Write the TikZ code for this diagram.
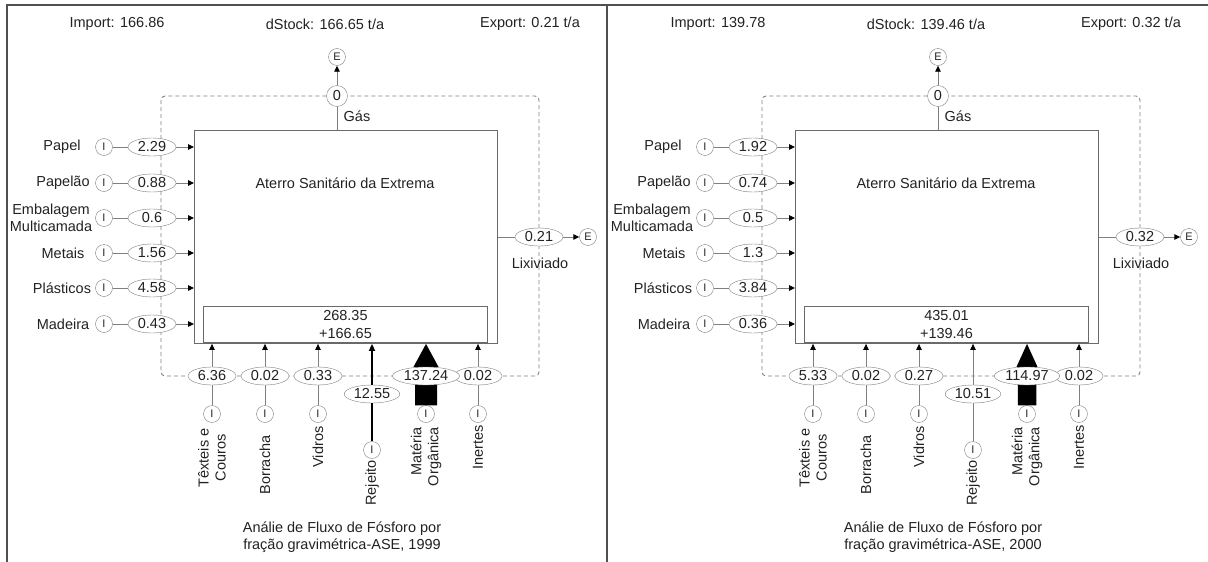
\documentclass[tikz,border=0pt]{standalone}
\usepackage{fontspec}
\setmainfont{Liberation Sans}
\usetikzlibrary{arrows.meta,shapes.geometric,calc}
\definecolor{ln}{HTML}{808080}
\definecolor{bx}{HTML}{6A6A6A}
\definecolor{tx}{HTML}{222222}
\definecolor{fr}{HTML}{505050}
\tikzset{
 circ/.style={circle, draw=ln, fill=white, minimum size=17pt, inner sep=0pt, font=\fontsize{11}{11}\selectfont, text=tx},
 zcirc/.style={circle, draw=ln, fill=white, minimum size=21pt, inner sep=0pt, text=tx},
 val/.style={ellipse, draw=ln, fill=white, minimum width=48pt, minimum height=18pt, inner xsep=1.5pt, inner ysep=0pt, text=tx},
 con/.style={draw=ln, line width=0.9pt},
 arr/.style={draw=ln, line width=0.9pt, -{Triangle[length=6pt,width=5.5pt,color=black]}},
 dsh/.style={draw=ln, line width=0.9pt, dash pattern=on 4pt off 3pt, rounded corners=4pt},
 lbl/.style={text=tx, align=center, inner sep=0pt},
 rlbl/.style={lbl, rotate=90},
 frame/.style={draw=fr, line width=1.2pt},
 boxst/.style={draw=bx, line width=0.9pt, inner sep=0pt},
}
\newcommand\inrow[5]{%
  \node[lbl] (#1l) at (#3,#2) {#4};
  \node[circ] (#1i) at (104,#2) {I};
  \node[val] (#1v) at (152,#2) {#5};
  \draw[con] (#1i) -- (#1v);
  \draw[arr] (#1v) -- (#1v -| box.west);
}
\newcommand\botcol[5]{%
  \node[circ] (#1i) at (#2,414) {I};
  \node[val] (#1v) at (#2,376) {#3};
  \node[rlbl] (#1l) at (#2,#4) {#5};
  \draw[con] (#1i) -- (#1v);
  \draw[arr] (#1v) -- (#1v |- box.south);
}
\newcommand\drawpanel{%
  \node[lbl] (imp) at (117,24) {Import: \vImp};
  \node[lbl] (dst) at (325,24) {dStock: \vSt\ t/a};
  \node[lbl] (exp) at (530,24) {Export: \vExp\ t/a};
  \draw[dsh] (161,96) rectangle (539,376);
  \node[boxst, minimum width=303pt, minimum height=213pt, anchor=north west] (box) at (194,130) {};
  \node[boxst, minimum width=284pt, minimum height=36pt, anchor=south west, align=center, text=tx,
        font=\fontsize{14.5}{18}\selectfont] (stk) at (203,343) {\vSa\\+\vSb};
  \node[lbl] (ttl) at (345,183) {Aterro Sanitário da Extrema};
  % gas
  \node[zcirc] (g0) at (337,96) {0};
  \node[circ] (gE) at (337,57) {E};
  \draw[con] (box.north -| g0) -- (g0);
  \draw[arr] (g0) -- (gE);
  \node[lbl] (gl) at (357,116) {Gás};
  % leachate
  \node[val] (lx) at (539,237) {\vExp};
  \node[circ] (lxE) at (588,237) {E};
  \draw[con] (box.east |- lx) -- (lx);
  \draw[arr] (lx) -- (lxE);
  \node[lbl] (lxl) at (540,263) {Lixiviado};
  % left inputs
  \inrow{pa}{147}{62}{Papel}{\vPa}
  \inrow{po}{183}{63}{Papelão}{\vPo}
  \inrow{em}{218}{51}{Embalagem\\Multicamada}{\vEm}
  \inrow{me}{253}{63}{Metais}{\vMe}
  \inrow{pl}{288}{62}{Plásticos}{\vPl}
  \inrow{ma}{324}{63}{Madeira}{\vMa}
  % bottom inputs
  \botcol{tx}{212}{\vTx}{458}{Têxteis e\\Couros}
  \botcol{bo}{265}{\vBo}{465}{Borracha}
  \botcol{vi}{318}{\vVi}{447}{Vidros}
  \botcol{in}{478}{\vIn}{447}{Inertes}
  % rejeito
  \node[circ] (rei) at (372,450) {I};
  \node[val] (rev) at (372,394) {\vRe};
  \node[rlbl] (rel) at (372,483) {Rejeito};
  \draw[rej] (rei) -- (rev);
  \draw[rejarr] (rev) -- (rev |- box.south);
  % materia organica
  \node[circ] (moi) at (426,414) {I};
  \coordinate (moT) at (moi |- box.south);
  \fill[black] ($(moi.north)+(-\moW,0)$) -- ($(moT)+(-\moW,23)$) -- ($(moT)+(-\moH,23)$) -- (moT)
     -- ($(moT)+(\moH,23)$) -- ($(moT)+(\moW,23)$) -- ($(moi.north)+(\moW,0)$) -- cycle;
  \node[val] (mov) at (426,376) {\vMo};
  \node[rlbl, anchor=east, align=right] (mol) at (426,427) {Matéria\\Orgânica};
  % caption
  \node[lbl] (cap) at (342,537) {Análie de Fluxo de Fósforo por\\fração gravimétrica-ASE, \vYear};
}
\begin{document}
\begin{tikzpicture}[x=1pt,y=-1pt,font=\fontsize{14.5}{17}\selectfont]
\useasboundingbox (0,0) rectangle (1208,562);
\draw[frame] (6,5) -- (1208,5);
\draw[frame] (7,5) -- (7,562);
\draw[frame] (607,5) -- (607,562);
% left panel
\begin{scope}[name prefix=L-]
\def\vImp{166.86}\def\vSt{166.65}\def\vExp{0.21}
\def\vPa{2.29}\def\vPo{0.88}\def\vEm{0.6}\def\vMe{1.56}\def\vPl{4.58}\def\vMa{0.43}
\def\vSa{268.35}\def\vSb{166.65}
\def\vTx{6.36}\def\vBo{0.02}\def\vVi{0.33}\def\vRe{12.55}\def\vMo{137.24}\def\vIn{0.02}
\def\vYear{1999}\def\moW{11}\def\moH{12.5}
\tikzset{rej/.style={draw=black, line width=2pt},
         rejarr/.style={draw=black, line width=2pt, -{Triangle[length=7pt,width=6pt,color=black]}}}
\drawpanel
\end{scope}
% right panel
\begin{scope}[shift={(601,0)}, name prefix=R-]
\def\vImp{139.78}\def\vSt{139.46}\def\vExp{0.32}
\def\vPa{1.92}\def\vPo{0.74}\def\vEm{0.5}\def\vMe{1.3}\def\vPl{3.84}\def\vMa{0.36}
\def\vSa{435.01}\def\vSb{139.46}
\def\vTx{5.33}\def\vBo{0.02}\def\vVi{0.27}\def\vRe{10.51}\def\vMo{114.97}\def\vIn{0.02}
\def\vYear{2000}\def\moW{9.25}\def\moH{10.5}
\tikzset{rej/.style={con}, rejarr/.style={arr}}
\drawpanel
\end{scope}
\end{tikzpicture}
\end{document}
